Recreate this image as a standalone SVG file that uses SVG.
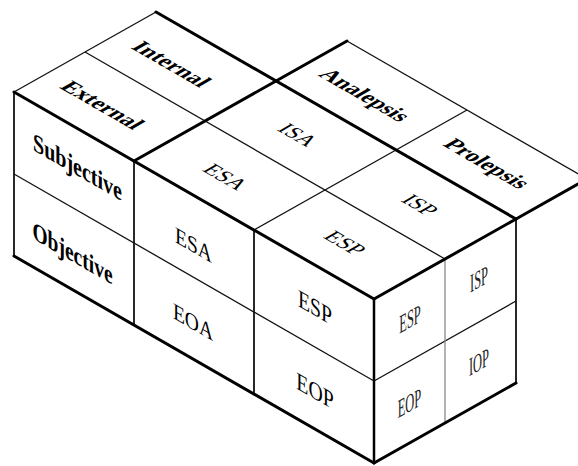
<svg xmlns="http://www.w3.org/2000/svg" width="578" height="466" viewBox="0 0 578 466">
  <style>
    .bg { fill: #ffffff; }
    .thick { stroke: #000; stroke-width: 3; fill: none; stroke-linecap: round; stroke-linejoin: round; }
    .mid { stroke: #111; stroke-width: 1.8; fill: none; }
    .thin { stroke: #111; stroke-width: 1.3; fill: none; }
    .grey { stroke: #888; stroke-width: 1.3; fill: none; }
    text { font-family: "Liberation Serif", "Times New Roman", serif; fill: #000; text-anchor: middle; }
    .hdr { font-size: 23px; font-weight: bold; }
    .side { font-size: 26px; font-weight: bold; }
    .top { font-size: 22px; }
    .left { font-size: 23px; }
    .left2 { font-size: 25px; }
    .right { font-size: 26px; fill: #222; }
  </style>
  <rect class="bg" x="0" y="0" width="578" height="466"/>

  <!-- top face: column headers (External / Internal) -->
  <g id="external">
    <text class="hdr" transform="matrix(0.866 0.5 -0.866 0.5 102.5 105)" y="7.6">External</text>
  </g>
  <g id="internal">
    <text class="hdr" transform="matrix(0.866 0.5 -0.866 0.5 171.5 64)" y="7.6">Internal</text>
  </g>
  <!-- flap: Analepsis / Prolepsis -->
  <g id="analepsis">
    <text class="hdr" transform="matrix(0.866 0.5 -0.866 0.5 365 95)" y="7.6">Analepsis</text>
  </g>
  <g id="prolepsis">
    <text class="hdr" transform="matrix(0.866 0.5 -0.866 0.5 487 163.5)" y="7.6">Prolepsis</text>
  </g>

  <!-- top face cells -->
  <g id="top-esa">
    <text class="top" transform="matrix(0.866 0.5 -0.866 0.5 225.5 177)" y="7.3">ESA</text>
  </g>
  <g id="top-isa">
    <text class="top" transform="matrix(0.866 0.5 -0.866 0.5 298 135)" y="7.3">ISA</text>
  </g>
  <g id="top-esp">
    <text class="top" transform="matrix(0.866 0.5 -0.866 0.5 345 243)" y="7.3">ESP</text>
  </g>
  <g id="top-isp">
    <text class="top" transform="matrix(0.866 0.5 -0.866 0.5 420 205)" y="7.3">ISP</text>
  </g>

  <!-- left face: row headers -->
  <g id="subjective">
    <text class="side" transform="matrix(0.77 0.443 0 1 77.5 167)" y="8.6">Subjective</text>
  </g>
  <g id="objective">
    <text class="side" transform="matrix(0.75 0.431 0 1 72.5 253)" y="8.6">Objective</text>
  </g>

  <!-- left face cells -->
  <g id="left-esa">
    <text class="left" transform="matrix(0.85 0.489 0 1 193.5 245)" y="7.6">ESA</text>
  </g>
  <g id="left-eoa">
    <text class="left" transform="matrix(0.85 0.489 0 1 193 322)" y="7.6">EOA</text>
  </g>
  <g id="left-esp">
    <text class="left2" transform="matrix(0.79 0.454 0 1 315 307.5)" y="8.2">ESP</text>
  </g>
  <g id="left-eop">
    <text class="left2" transform="matrix(0.79 0.454 0 1 315 391)" y="8.2">EOP</text>
  </g>

  <!-- right face cells -->
  <g id="right-esp">
    <text class="right" transform="matrix(0.48 -0.27 0 1 410 319)" y="8.6">ESP</text>
  </g>
  <g id="right-isp">
    <text class="right" transform="matrix(0.48 -0.27 0 1 479 279)" y="8.6">ISP</text>
  </g>
  <g id="right-eop">
    <text class="right" transform="matrix(0.48 -0.27 0 1 409.5 403)" y="8.6">EOP</text>
  </g>
  <g id="right-iop">
    <text class="right" transform="matrix(0.48 -0.27 0 1 479 362)" y="8.6">IOP</text>
  </g>

  <!-- grid lines of the box -->
  <g id="edges">
    <!-- thin lines -->
    <line class="thin" x1="14" y1="92" x2="156" y2="12"/>
    <line class="thin" x1="85" y1="52" x2="445" y2="259"/>
    <line class="thin" x1="254" y1="230" x2="467" y2="110"/>
    <line class="thin" x1="347" y1="41" x2="587" y2="179"/>
    <line class="thin" x1="14" y1="174" x2="374" y2="381"/>
    <line class="thin" x1="374" y1="381" x2="516" y2="301"/>
    <line class="grey" x1="445" y1="259" x2="445" y2="423"/>
    <!-- verticals -->
    <line class="mid" x1="14" y1="92" x2="14" y2="256"/>
    <line class="mid" x1="134" y1="161" x2="134" y2="325"/>
    <line class="mid" x1="254" y1="230" x2="254" y2="394"/>
    <line class="mid" x1="516" y1="219" x2="516" y2="383"/>
    <line class="thick" x1="374" y1="299" x2="374" y2="463" style="stroke-width:2.5"/>
    <!-- heavy edges -->
    <line class="thick" x1="14" y1="92" x2="374" y2="299"/>
    <line class="thick" x1="374" y1="299" x2="516" y2="219"/>
    <line class="thick" x1="14" y1="256" x2="374" y2="463"/>
    <line class="thick" x1="374" y1="463" x2="516" y2="383"/>
    <line class="thick" x1="156" y1="12" x2="516" y2="219"/>
    <line class="thick" x1="134" y1="161" x2="276" y2="81"/>
    <line class="thick" x1="276" y1="81" x2="347" y2="41"/>
    <line class="thick" x1="516" y1="219" x2="587" y2="179"/>
  </g>
</svg>
